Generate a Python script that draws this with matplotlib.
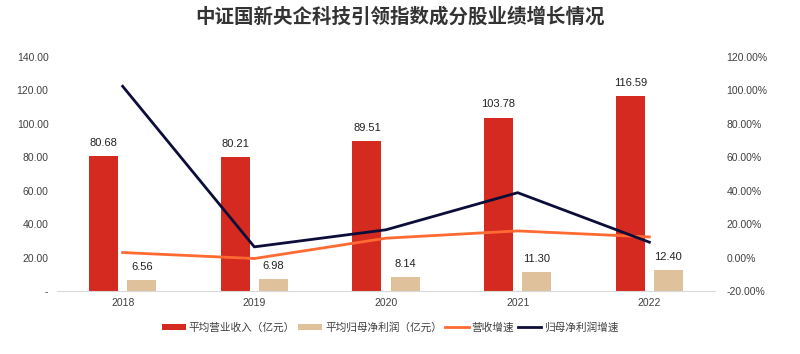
import numpy as np
from matplotlib import pyplot as plt
from matplotlib.ticker import FuncFormatter

plt.rcParams['font.family'] = ['Liberation Sans', 'Noto Sans CJK SC', 'DejaVu Sans']

years = ['2018', '2019', '2020', '2021', '2022']
revenue = [80.68, 80.21, 89.51, 103.78, 116.59]
profit = [6.56, 6.98, 8.14, 11.30, 12.40]
revenue_growth = [3.0, -0.58, 11.59, 15.94, 12.34]
profit_growth = [102.5, 6.40, 16.62, 38.82, 9.2]

red = '#d42a20'
tan = '#dfc19c'
orange = '#ff6a33'
navy = '#0d0d3a'
text_c = '#404040'

fig = plt.figure(figsize=(8, 3.54), dpi=100)
ax = fig.add_axes([0.071, 0.178, 0.823, 0.661])
ax2 = ax.twinx()

x = np.arange(len(years))
w = 0.22
b1 = ax.bar(x - 0.145, revenue, w, color=red, label='平均营业收入（亿元）', zorder=2)
b2 = ax.bar(x + 0.145, profit, w, color=tan, label='平均归母净利润（亿元）', zorder=2)

for rect, v in zip(b1, revenue):
    ax.annotate(f'{v:.2f}', (rect.get_x() + rect.get_width() / 2, v),
                xytext=(0, 6), textcoords='offset points', ha='center', va='bottom',
                fontsize=8, color='#222222')
for rect, v in zip(b2, profit):
    ax.annotate(f'{v:.2f}', (rect.get_x() + rect.get_width() / 2, v),
                xytext=(0, 6), textcoords='offset points', ha='center', va='bottom',
                fontsize=8, color='#222222')

l1, = ax2.plot(x, revenue_growth, color=orange, lw=2, label='营收增速', zorder=3)
l2, = ax2.plot(x, profit_growth, color=navy, lw=2, label='归母净利润增速', zorder=4)

ax.set_xlim(-0.5, 4.5)
ax.set_ylim(0, 140)
ax.set_yticks(np.arange(0, 141, 20))
ax.yaxis.set_major_formatter(FuncFormatter(lambda v, p: '-' if v == 0 else f'{v:.2f}'))
ax2.set_ylim(-20, 120)
ax2.set_yticks(np.arange(-20, 121, 20))
ax2.yaxis.set_major_formatter(FuncFormatter(lambda v, p: f'{v:.2f}%'))

ax.set_xticks(x)
ax.set_xticklabels(years)

for a in (ax, ax2):
    for s in ('top', 'left', 'right', 'bottom'):
        a.spines[s].set_visible(False)
    a.tick_params(length=0, labelsize=7.5, colors=text_c)
ax.spines['bottom'].set_visible(True)
ax.spines['bottom'].set_color('#d9d9d9')
ax.tick_params(axis='y', pad=6)
ax.tick_params(axis='x', pad=5)
ax2.tick_params(axis='y', pad=8)

fig.suptitle('中证国新央企科技引领指数成分股业绩增长情况', x=0.5, y=0.98,
             fontsize=14, fontweight='bold', color='#333333')

fig.legend([b1, b2, l1, l2], [b1.get_label(), b2.get_label(), l1.get_label(), l2.get_label()],
           loc='center', bbox_to_anchor=(0.488, 0.075), ncol=4, frameon=False,
           fontsize=7.7, handlelength=2.2, handleheight=0.5, columnspacing=0.3,
           handletextpad=0.3, labelcolor=text_c)

plt.savefig('out.png', dpi=100)
